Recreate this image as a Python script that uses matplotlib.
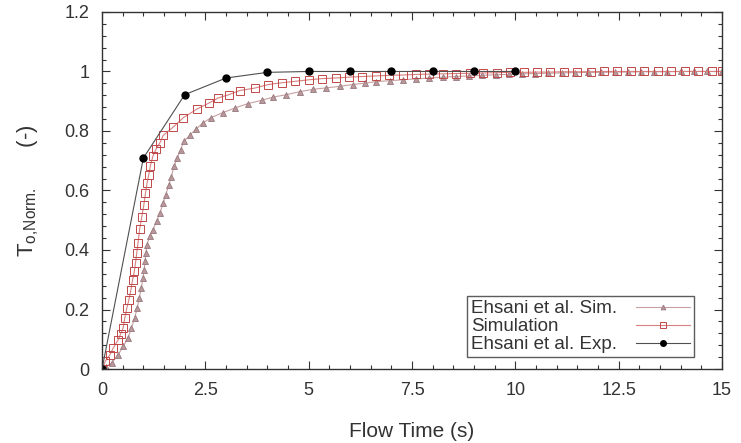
import matplotlib
matplotlib.use("Agg")
import matplotlib.pyplot as plt
from matplotlib.ticker import MultipleLocator, FixedLocator

plt.rcParams["font.family"] = ["Liberation Sans", "DejaVu Sans"]

# Ehsani et al. simulation (triangles)
t_ehs_sim = [0, 0.10, 0.23, 0.39, 0.51, 0.63, 0.71, 0.79, 0.85, 0.90, 0.95, 0.99,
             1.02, 1.04, 1.06, 1.09, 1.15, 1.23, 1.32, 1.40, 1.48, 1.54, 1.62, 1.68,
             1.74, 1.82, 1.90, 1.98, 2.14, 2.28, 2.44, 2.64, 2.93, 3.21, 3.53, 3.86,
             4.14, 4.46, 4.78, 5.10, 5.43, 5.75, 6.07, 6.36, 6.64, 6.96, 7.28, 7.60,
             7.92, 8.24, 8.56, 8.88, 9.20, 9.52, 9.84, 10.16, 10.48, 10.80, 11.12,
             11.44, 11.76, 12.08, 12.40, 12.72, 13.04, 13.36, 13.68, 14.00, 14.32,
             14.64, 15.00]
T_ehs_sim = [0, 0.008, 0.020, 0.048, 0.076, 0.104, 0.138, 0.171, 0.205, 0.239, 0.272,
             0.306, 0.334, 0.362, 0.390, 0.418, 0.446, 0.468, 0.496, 0.524, 0.558,
             0.586, 0.620, 0.647, 0.681, 0.709, 0.737, 0.765, 0.788, 0.807, 0.827,
             0.845, 0.862, 0.877, 0.892, 0.903, 0.914, 0.922, 0.932, 0.940, 0.945,
             0.950, 0.956, 0.961, 0.966, 0.969, 0.972, 0.975, 0.978, 0.981, 0.983,
             0.985, 0.987, 0.989, 0.990, 0.992, 0.993, 0.994, 0.995, 0.996, 0.997,
             0.997, 0.998, 0.998, 0.999, 0.999, 0.999, 1.000, 1.000, 1.000, 1.000]

# present simulation (squares)
t_sim = [0, 0.08, 0.19, 0.27, 0.39, 0.45, 0.51, 0.55, 0.60, 0.65, 0.70, 0.74, 0.78,
         0.81, 0.84, 0.87, 0.91, 0.96, 1.01, 1.05, 1.09, 1.13, 1.17, 1.23, 1.31,
         1.40, 1.48, 1.72, 1.96, 2.30, 2.59, 2.81, 3.07, 3.33, 3.69, 4.02, 4.35,
         4.68, 5.00, 5.32, 5.65, 5.97, 6.30, 6.62, 6.95, 7.27, 7.60, 7.92, 8.25,
         8.57, 8.90, 9.22, 9.55, 9.87, 10.20, 10.52, 10.85, 11.17, 11.50, 11.82,
         12.15, 12.47, 12.80, 13.12, 13.45, 13.77, 14.10, 14.42, 14.75, 15.00]
T_sim = [0, 0.026, 0.048, 0.070, 0.098, 0.118, 0.138, 0.171, 0.205, 0.233, 0.267,
         0.300, 0.328, 0.356, 0.390, 0.424, 0.470, 0.510, 0.550, 0.590, 0.625,
         0.653, 0.683, 0.715, 0.740, 0.760, 0.785, 0.813, 0.844, 0.874, 0.894,
         0.911, 0.922, 0.936, 0.944, 0.956, 0.962, 0.967, 0.972, 0.976, 0.978,
         0.981, 0.983, 0.985, 0.987, 0.988, 0.990, 0.991, 0.992, 0.993, 0.994,
         0.995, 0.996, 0.997, 0.997, 0.998, 0.998, 0.999, 0.999, 0.999, 1.000,
         1.000, 1.000, 1.000, 1.000, 1.000, 1.000, 1.000, 1.000, 1.000]

# Ehsani et al. experiment (filled circles)
t_exp = [0, 1, 2, 3, 4, 5, 6, 7, 8, 9, 10]
T_exp = [0, 0.709, 0.922, 0.978, 0.997, 1.0, 1.0, 1.0, 1.0, 1.0, 1.0]

x_ticks = [0, 2.5, 5, 7.5, 10, 12.5, 15]
x_tick_labels = ["0", "2.5", "5", "7.5", "10", "12.5", "15"]
y_ticks = [0, 0.2, 0.4, 0.6, 0.8, 1.0, 1.2]
y_tick_labels = ["0", "0.2", "0.4", "0.6", "0.8", "1", "1.2"]

TXT = "#333333"

fig = plt.figure(figsize=(7.41, 4.43), dpi=100)
ax = fig.add_axes([0.1377, 0.167, 0.8367, 0.806])

ax.plot(t_ehs_sim, T_ehs_sim, color="#c8a0a0", linewidth=0.8,
        marker="^", markersize=4.3, markerfacecolor="#b89898",
        markeredgecolor="#987880", markeredgewidth=0.6,
        label="Ehsani et al. Sim.")
ax.plot(t_sim, T_sim, color="#d88080", linewidth=0.8,
        marker="s", markersize=5.3, markerfacecolor="none",
        markeredgecolor="#c04848", markeredgewidth=0.7,
        label="Simulation")
ax.plot(t_exp, T_exp, color="#505050", linewidth=0.8,
        marker="o", markersize=5, markerfacecolor="black",
        markeredgecolor="black", label="Ehsani et al. Exp.")

ax.set_xlim(0, 15)
ax.set_ylim(0, 1.2)
ax.xaxis.set_major_locator(FixedLocator(x_ticks))
ax.set_xticklabels(x_tick_labels)
ax.yaxis.set_major_locator(FixedLocator(y_ticks))
ax.set_yticklabels(y_tick_labels)
ax.xaxis.set_minor_locator(MultipleLocator(0.5))
ax.yaxis.set_minor_locator(MultipleLocator(0.04))
ax.tick_params(which="both", direction="in", top=True, right=True,
               labelsize=13, colors=TXT, width=0.8)
ax.tick_params(which="major", length=6, pad=9)
ax.tick_params(which="minor", length=3)
for s in ax.spines.values():
    s.set_linewidth(1.0)
    s.set_color(TXT)

ax.set_xlabel("Flow Time (s)", fontsize=15, color=TXT, labelpad=17)
ax.set_ylabel(r"T$_{\mathregular{o{,}Norm.}}$      (-)", fontsize=16,
              color=TXT, labelpad=17)

leg = ax.legend(loc="lower right", bbox_to_anchor=(0.955, 0.033),
                markerfirst=False, fontsize=13.5, frameon=True, fancybox=False,
                handlelength=2.9, borderpad=0.2, labelspacing=0.05,
                handletextpad=1.0, borderaxespad=0, markerscale=0.8)
leg.get_frame().set_edgecolor(TXT)
leg.get_frame().set_linewidth(1.0)
for txt in leg.get_texts():
    txt.set_color(TXT)

# legend text left aligned with handles on the right (gnuplot style)
renderer = fig.canvas.get_renderer()
widths = [t.get_window_extent(renderer).width * 72 / fig.dpi for t in leg.get_texts()]
wmax = max(widths)
base_sep = 1.0 * 13.5
col = leg._legend_handle_box.get_children()[0]
for item, w in zip(col.get_children(), widths):
    item.sep = base_sep + (wmax - w)

fig.savefig("out.png", dpi=100)
